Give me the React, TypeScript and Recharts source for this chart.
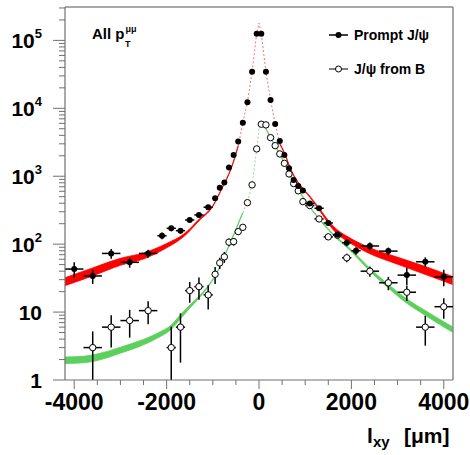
import React from 'react'
import {
  ComposedChart,
  Scatter,
  Line,
  Area,
  XAxis,
  YAxis,
  ErrorBar,
  ReferenceLine,
} from 'recharts'

// histogram bins in l_xy (µm)
const binCenters = [
  -4000, -3600, -3200, -2800, -2400, -2100, -1900, -1700, -1500, -1300, -1100,
  -950, -850, -750, -650, -550, -450, -350, -250, -150, -50,
  50, 150, 250, 350, 450, 550, 650, 750, 850, 950,
  1100, 1300, 1500, 1700, 1900, 2100, 2400, 2800, 3200, 3600, 4000,
]
const binHalfWidths = [
  200, 200, 200, 200, 200, 100, 100, 100, 100, 100, 100,
  50, 50, 50, 50, 50, 50, 50, 50, 50, 50,
  50, 50, 50, 50, 50, 50, 50, 50, 50, 50,
  100, 100, 100, 100, 100, 100, 200, 200, 200, 200, 200,
]

// prompt J/psi
const promptCounts = [
  43, 34, 73, 54, 73, 133, 171, 158, 227, 269, 350,
  474, 679, 805, 1340, 2060, 3235, 6150, 12300, 34400, 125000,
  125000, 34400, 13300, 5890, 3300, 2060, 1310, 880, 720, 615,
  398, 338, 205, 137, 105, 80, 94, 79, 35, 55, 33,
]
const promptErrors = [
  11, 8, 12, 9, 10, 15, 16, 15, 18, 20, 22,
  25, 30, 35, 45, 55, 70, 100, 140, 250, 500,
  500, 250, 140, 100, 70, 55, 45, 35, 30, 28,
  22, 20, 16, 14, 12, 10, 12, 10, 10, 9, 9,
]

// J/psi from B
const fromBCounts = [
  null, 3.0, 6.0, 7.5, 10.5, null, 3.0, 6.0, 20.7, 23.7, 17.9,
  36, 53, 65, 107, 109, 153, 177, 408, 745, 2525,
  5830, 5700, 3700, 2820, 2130, 1550, 1080, 780, 610, 423,
  370, 235, 128, 135, 63, null, 40, 27, 19.6, 6.0, 12,
]
const fromBErrLow = [
  null, 2.0, 3.0, 3.3, 3.9, null, 2.0, 4.2, 7, 8.5, 7,
  10, 10, 12, 14, 14, 16, 18, 25, 35, 60,
  60, 60, 50, 40, 35, 30, 25, 22, 20, 18,
  17, 14, 10, 11, 9, null, 7, 6, 5, 2.8, 4,
]
const fromBErrHigh = [
  null, 2.2, 3.0, 3.3, 3.9, null, 3.1, 3.6, 7, 8.5, 7,
  10, 10, 12, 14, 14, 16, 18, 25, 35, 60,
  60, 60, 50, 40, 35, 30, 25, 22, 20, 18,
  17, 14, 10, 11, 9, null, 7, 6, 5, 2.8, 4,
]

// prompt fit (band low / high edges)
const redLeftX = [-4200, -3600, -3000, -2500, -2000, -1600, -1300, -1000, -800, -600, -450]
const redLeftLo = [24.5, 34.1, 48.8, 60.5, 88.2, 134.5, 220, 358, 659, 1298, 2753]
const redLeftHi = [32.1, 44.7, 61.9, 74.2, 102.3, 145.7, 232, 370, 681, 1342, 2848]
const redRightX = [450, 550, 700, 900, 1100, 1300, 1600, 2000, 2400, 3000, 3600, 4200]
const redRightLo = [2950, 2163, 1180, 708, 490, 320, 164.6, 101, 72.3, 50.6, 35.8, 25.3]
const redRightHi = [3051, 2237, 1220, 732, 510, 340, 186, 120, 88.6, 64.2, 46.9, 33.2]
const redPeakX = [-450, -350, -250, -150, -50, 0, 50, 150, 250, 350, 450]
const redPeakY = [2800, 6150, 12300, 34400, 125000, 180000, 125000, 34400, 13300, 5890, 3000]

// from-B fit
const greenLeftX = [-4200, -3800, -3400, -3000, -2600, -2200, -1900, -1700, -1500, -1300, -1100, -950, -800, -650, -500, -350]
const greenLeftLo = [1.744, 1.789, 2.018, 2.484, 3.09, 4.136, 5.571, 7.944, 11.36, 15.96, 23.44, 33.43, 54.1, 93.4, 162.2, 285.2]
const greenLeftHi = [2.18, 2.236, 2.509, 3.044, 3.74, 4.896, 6.462, 9.095, 12.67, 17.06, 24.58, 34.58, 55.9, 96.6, 167.8, 294.9]
const greenRightX = [100, 250, 350, 550, 650, 900, 1250, 1600, 2000, 2400, 2800, 3200, 3600, 4000, 4200]
const greenRightLo = [5801, 3638, 2753, 1524, 1082, 551, 255.6, 137.1, 77.4, 40.0, 22.6, 13.5, 8.94, 6.04, 5.02]
const greenRightHi = [6001, 3763, 2848, 1576, 1119, 570, 264.4, 142.9, 82.7, 44.1, 25.5, 15.6, 10.52, 7.21, 6.03]
const greenPeakX = [-350, -250, -150, -50, 20, 100]
const greenPeakY = [290, 420, 745, 2500, 6300, 5900]

// axes
const xTicks = [-4000, -3500, -3000, -2500, -2000, -1500, -1000, -500, 0, 500, 1000, 1500, 2000, 2500, 3000, 3500, 4000]
const xMajorTicks = [-4000, -2000, 0, 2000, 4000]
const xTickLabels = ['-4000', '-2000', '0', '2000', '4000']
const yMajorTicks = [1, 10, 100, 1000, 10000, 100000]
const yMajorBase = ['1', '10', '10', '10', '10', '10']
const yMajorExp = ['', '', '2', '3', '4', '5']

const yTicks: number[] = []
for (const d of yMajorTicks) {
  for (let m = 1; m <= 9; m++) {
    if (d * m <= 310000) yTicks.push(d * m)
  }
}

const FONT = '"Liberation Sans", Arial, Helvetica, sans-serif'
const AXIS = '#707070'
const RED = '#ff0000'
const GREEN = '#5ccf5c'

const promptPoints = binCenters.map((x, i) => ({
  x,
  y: promptCounts[i],
  ex: binHalfWidths[i],
  ey: promptErrors[i],
}))

const fromBPoints = binCenters
  .map((x, i) => ({
    x,
    y: fromBCounts[i],
    ex: binHalfWidths[i],
    ey: [fromBErrLow[i], fromBErrHigh[i]],
  }))
  .filter((p) => p.y != null)

const band = (xs: number[], lo: number[], hi: number[]) =>
  xs.map((x, i) => ({ x, lo: lo[i], hi: hi[i] }))
const curve = (xs: number[], ys: number[]) => xs.map((x, i) => ({ x, v: ys[i] }))

const redLeft = band(redLeftX, redLeftLo, redLeftHi)
const redRight = band(redRightX, redRightLo, redRightHi)
const greenLeft = band(greenLeftX, greenLeftLo, greenLeftHi)
const greenRight = band(greenRightX, greenRightLo, greenRightHi)
const redPeak = curve(redPeakX, redPeakY)
const greenPeak = curve(greenPeakX, greenPeakY)

function XTick(props: any) {
  const { x, y, payload } = props
  const i = xMajorTicks.indexOf(payload.value)
  return (
    <g>
      <line x1={x} x2={x} y1={y} y2={y + (i >= 0 ? 9 : 5)} stroke={AXIS} />
      {i >= 0 && (
        <text x={x} y={y + 30} textAnchor="middle" fontSize={23} fontWeight="bold" fontFamily={FONT} fill="#000">
          {xTickLabels[i]}
        </text>
      )}
    </g>
  )
}

function YTick(props: any) {
  const { x, y, payload } = props
  const i = yMajorTicks.indexOf(payload.value)
  return (
    <g>
      <line x1={x - (i >= 0 ? 12 : 6)} x2={x} y1={y} y2={y} stroke={AXIS} />
      {i >= 0 && (
        <text x={x - 23} y={y + 8} textAnchor="end" fontWeight="bold" fontFamily={FONT} fill="#000">
          <tspan fontSize={21}>{yMajorBase[i]}</tspan>
          {yMajorExp[i] && (
            <tspan fontSize={13} dy={-10}>
              {yMajorExp[i]}
            </tspan>
          )}
        </text>
      )}
    </g>
  )
}

const filledDot = (p: any) => <circle cx={p.cx} cy={p.cy} r={3} fill="#000" />
const openDot = (p: any) => <circle cx={p.cx} cy={p.cy} r={3.2} fill="#fff" stroke="#000" strokeWidth={1} />

export default function App() {
  return (
    <div style={{ position: 'absolute', left: 0, top: 0, width: 470, height: 455, background: '#fff' }}>
      <ComposedChart width={470} height={455} margin={{ top: 7, right: 17, bottom: 0, left: 0 }}>
        <XAxis
          dataKey="x"
          type="number"
          domain={[-4200, 4200]}
          allowDataOverflow
          ticks={xTicks}
          interval={0}
          tick={<XTick />}
          tickLine={false}
          tickSize={0}
          tickMargin={0}
          height={75}
          axisLine={{ stroke: AXIS, strokeWidth: 1.2 }}
        />
        <YAxis
          type="number"
          scale="log"
          domain={[1, 310000]}
          allowDataOverflow
          ticks={yTicks}
          interval={0}
          tick={<YTick />}
          tickLine={false}
          tickSize={0}
          tickMargin={0}
          width={65}
          axisLine={{ stroke: AXIS, strokeWidth: 1.2 }}
        />
        <ReferenceLine y={310000} stroke="#8a8a8a" strokeWidth={1.5} />
        <ReferenceLine x={4200} stroke="#8a8a8a" strokeWidth={1.5} />

        <Area data={greenLeft} dataKey={(d: any) => [d.lo, d.hi]} type="monotone" stroke={GREEN} strokeWidth={0.8} fill={GREEN} fillOpacity={1} dot={false} activeDot={false} isAnimationActive={false} />
        <Area data={greenRight} dataKey={(d: any) => [d.lo, d.hi]} type="monotone" stroke={GREEN} strokeWidth={0.8} fill={GREEN} fillOpacity={1} dot={false} activeDot={false} isAnimationActive={false} />
        <Line data={greenPeak} dataKey="v" type="linear" stroke="#8fe08f" strokeWidth={1} strokeDasharray="2 2" dot={false} activeDot={false} isAnimationActive={false} />
        <Area data={redLeft} dataKey={(d: any) => [d.lo, d.hi]} type="monotone" stroke={RED} strokeWidth={0.8} fill={RED} fillOpacity={1} dot={false} activeDot={false} isAnimationActive={false} />
        <Area data={redRight} dataKey={(d: any) => [d.lo, d.hi]} type="monotone" stroke={RED} strokeWidth={0.8} fill={RED} fillOpacity={1} dot={false} activeDot={false} isAnimationActive={false} />
        <Line data={redPeak} dataKey="v" type="linear" stroke="#ff7070" strokeWidth={1} strokeDasharray="2 2" dot={false} activeDot={false} isAnimationActive={false} />

        <Scatter data={fromBPoints} dataKey="y" shape={openDot} isAnimationActive={false}>
          <ErrorBar dataKey="ey" direction="y" width={0} stroke="#000" strokeWidth={1.5} />
          <ErrorBar dataKey="ex" direction="x" width={0} stroke="#000" strokeWidth={1.5} />
        </Scatter>
        <Scatter data={promptPoints} dataKey="y" shape={filledDot} isAnimationActive={false}>
          <ErrorBar dataKey="ey" direction="y" width={0} stroke="#000" strokeWidth={1.5} />
          <ErrorBar dataKey="ex" direction="x" width={0} stroke="#000" strokeWidth={1.5} />
        </Scatter>
      </ComposedChart>

      <svg width={470} height={455} style={{ position: 'absolute', left: 0, top: 0, pointerEvents: 'none' }}>
        <g fontFamily={FONT} fontWeight="bold" fill="#000">
          <text x={92} y={38.5} fontSize={15}>All p</text>
          <text x={125.5} y={32} fontSize={9}>μμ</text>
          <text x={125} y={47} fontSize={9}>T</text>

          <line x1={329} x2={348} y1={35} y2={35} stroke="#000" strokeWidth={1.5} />
          <circle cx={338.5} cy={35} r={3} fill="#000" />
          <text x={354} y={40} fontSize={14}>Prompt J/ψ</text>
          <line x1={329} x2={348} y1={69} y2={69} stroke="#000" strokeWidth={1} />
          <circle cx={338.5} cy={69} r={3} fill="#fff" stroke="#000" strokeWidth={1} />
          <text x={354} y={73.5} fontSize={14}>J/ψ from B</text>

          <text x={367} y={443} fontSize={21}>l</text>
          <text x={373} y={447} fontSize={15}>xy</text>
          <text x={404} y={443} fontSize={21}>[μm]</text>
        </g>
      </svg>
    </div>
  )
}
